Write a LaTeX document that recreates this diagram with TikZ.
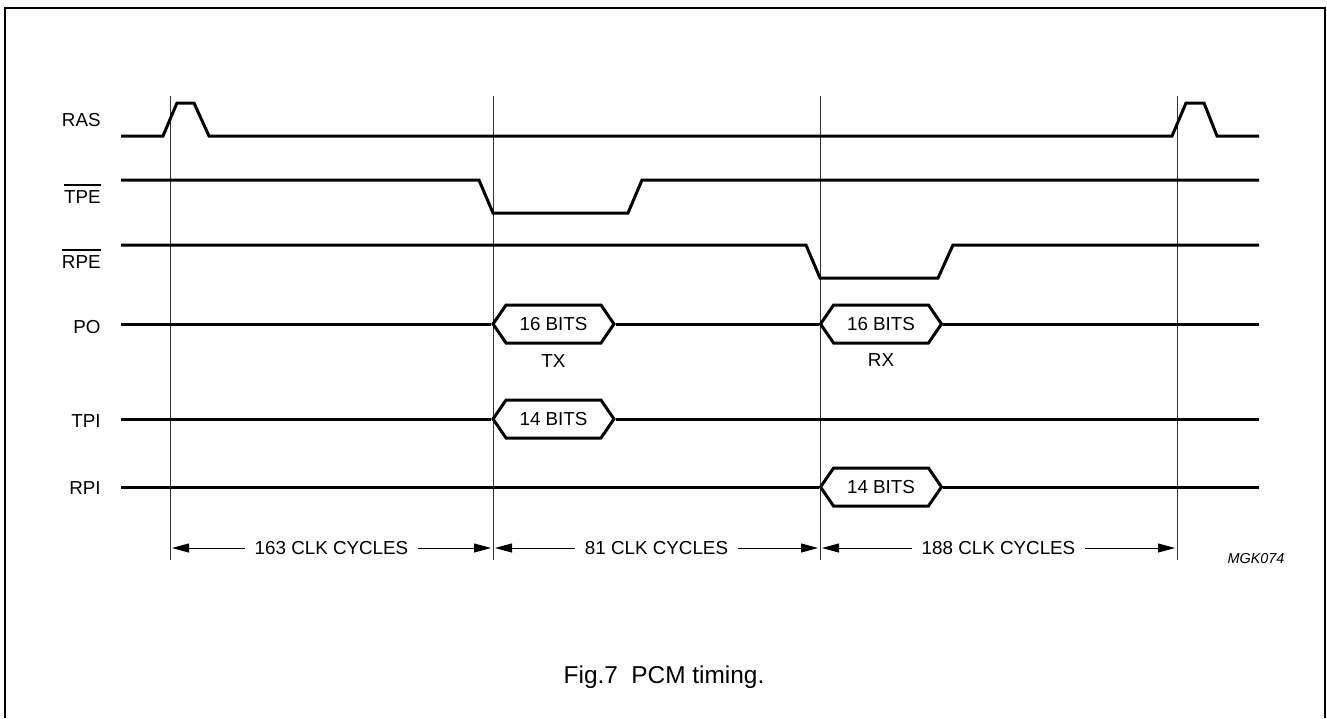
\documentclass[tikz,border=0pt]{standalone}
\usepackage{fontspec}
\setmainfont{Liberation Sans}
\usetikzlibrary{arrows.meta,shapes.symbols}
\newcommand\sigfont{\fontsize{9.4}{11}\selectfont}
\newcommand\ovl[1]{\vbox{\hrule height 0.6pt\kern 2.6pt\hbox{#1}}}
\tikzset{
  wave/.style={line width=1.5pt, line join=miter},
  tick/.style={line width=0.5pt, draw=black!80},
  bus/.style={signal, signal to=west and east, signal pointer angle=111, draw,
              line width=1.5pt, minimum width=60.5pt, minimum height=19pt,
              inner sep=0pt, font=\sigfont},
  siglabel/.style={anchor=east, inner sep=0pt, font=\sigfont},
  dim/.style={{Triangle[length=8.5pt,width=4.5pt]}-{Triangle[length=8.5pt,width=4.5pt]},
              line width=0.5pt, shorten <=1pt, shorten >=1pt},
  dimtext/.style={fill=white, inner xsep=5pt, font=\sigfont},
}

\begin{document}
\begin{tikzpicture}[x=0.5pt, y=-0.5pt]
  \useasboundingbox (0,0) rectangle (1327,718);
  \draw[line width=0.8pt] (5,718) -- (5,8) -- (1325,8) -- (1325,718);

  % signal names
  \node[siglabel] (lRAS) at (101,120) {RAS};
  \node[siglabel] (lTPE) at (101,194) {\ovl{TPE}};
  \node[siglabel] (lRPE) at (101,259) {\ovl{RPE}};
  \node[siglabel] (lPO)  at (101,327) {PO};
  \node[siglabel] (lTPI) at (101,421) {TPI};
  \node[siglabel] (lRPI) at (101,488) {RPI};

  % time marks
  \foreach \x/\n in {170/0, 493/1, 820/2, 1177/3} {
    \draw[tick] (\x,96) -- (\x,560);
    \coordinate (d\n) at (\x,548);
  }

  % waveforms
  \draw[wave] (121,136) -- (163,136) -- (177,103) -- (194,103) -- (209,136)
    -- (1172,136) -- (1186,103) -- (1204,103) -- (1217,136) -- (1259,136);
  \draw[wave] (121,180) -- (479,180) -- (493,213) -- (628,213) -- (642,180) -- (1259,180);
  \draw[wave] (121,245) -- (806,245) -- (820,278) -- (938,278) -- (953,245) -- (1259,245);

  \node[bus] (tx)   at (553.5,324) {16 BITS};
  \node[bus] (rx)   at (881,324)   {16 BITS};
  \node[bus] (bTPI) at (553.5,419) {14 BITS};
  \node[bus] (bRPI) at (881,487)   {14 BITS};
  \node[font=\sigfont] (ltx) at (553.5,361) {TX};
  \node[font=\sigfont] (lrx) at (881,360)   {RX};

  \draw[wave] (121,324) -- (tx.west);
  \draw[wave] (tx.east) -- (rx.west);
  \draw[wave] (rx.east) -- (1259,324);
  \draw[wave] (121,419) -- (bTPI.west);
  \draw[wave] (bTPI.east) -- (1259,419);
  \draw[wave] (121,487) -- (bRPI.west);
  \draw[wave] (bRPI.east) -- (1259,487);

  % cycle counts
  \draw[dim] (d0) -- node[dimtext] {163 CLK CYCLES} (d1);
  \draw[dim] (d1) -- node[dimtext] {81 CLK CYCLES} (d2);
  \draw[dim] (d2) -- node[dimtext] {188 CLK CYCLES} (d3);

  \node[font=\fontsize{7.2}{9}\selectfont\itshape] (code) at (1256,559) {MGK074};
  \node[font=\fontsize{12.2}{14}\selectfont] (cap) at (664,677) {Fig.7\ \ PCM timing.};
\end{tikzpicture}
\end{document}
